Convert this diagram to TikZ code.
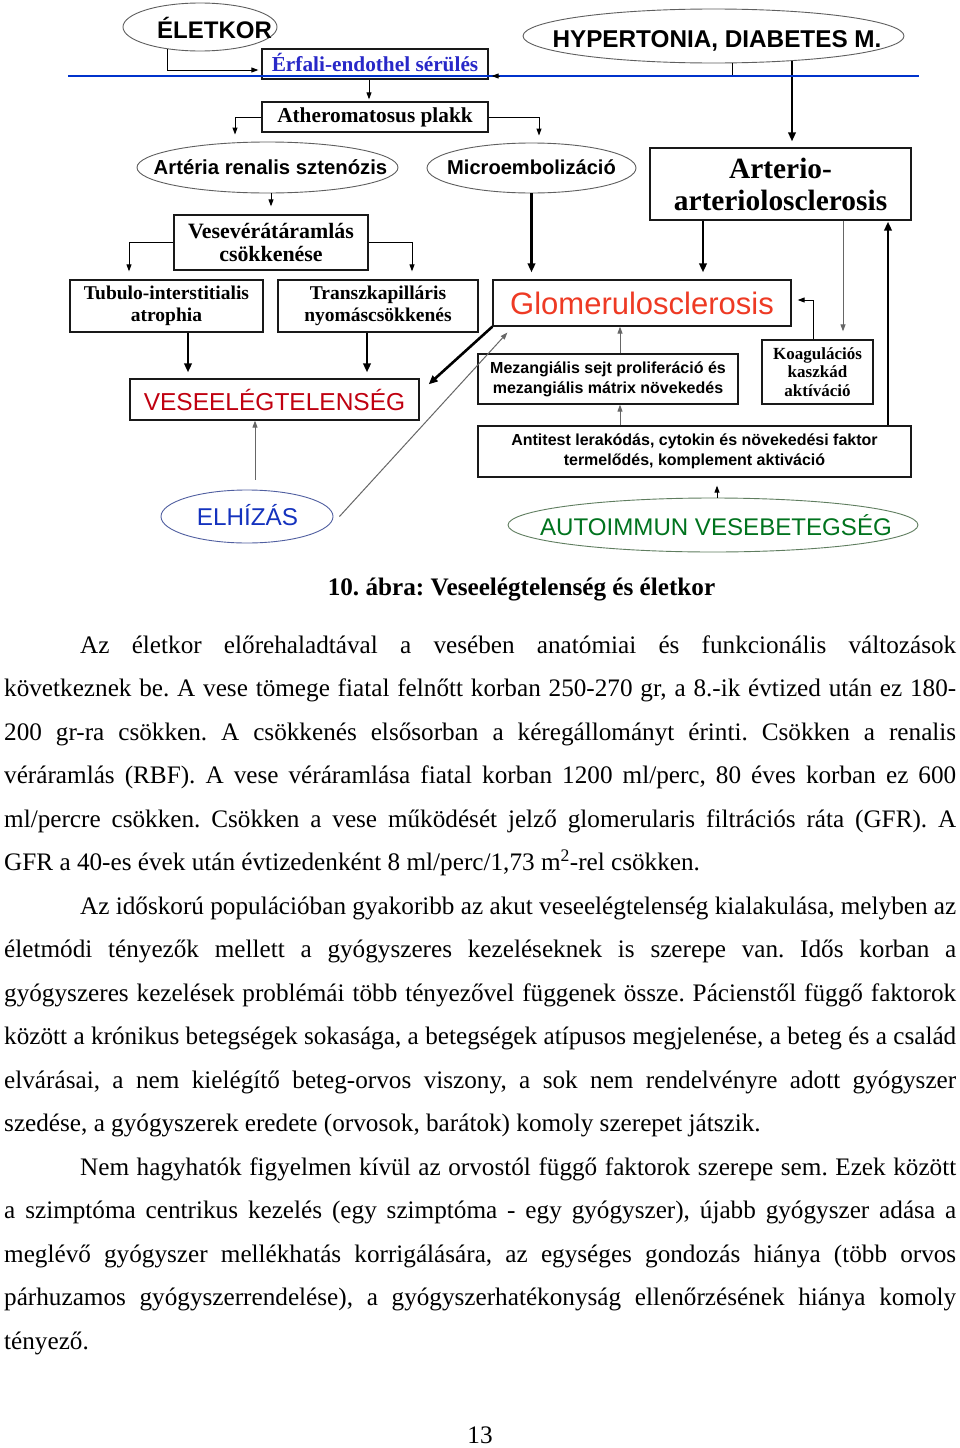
\documentclass[tikz,border=0pt]{standalone}
\usepackage{fontspec}
\setmainfont{Liberation Serif}
\newfontfamily\arialf{Liberation Sans}
\usetikzlibrary{shapes.geometric,arrows.meta,calc}
\definecolor{lineblue}{RGB}{0,51,204}
\definecolor{erfblue}{RGB}{40,40,200}
\definecolor{glomred}{RGB}{238,58,36}
\definecolor{veseelred}{RGB}{192,0,16}
\definecolor{elhblue}{RGB}{20,50,190}
\definecolor{autogreen}{RGB}{0,115,30}
\definecolor{ellgray}{RGB}{95,95,95}
\definecolor{ellblue}{RGB}{80,95,160}
\definecolor{ellgreen}{RGB}{95,125,95}
\newcommand\bodyline[4]{\node[tline] (#1) at (#2,#3) {#4};}
\frenchspacing
\begin{document}
\begin{tikzpicture}[x=1pt,y=-1pt,
  box/.style={draw=black!90,line width=1.3pt,inner sep=0pt,align=center},
  ell/.style={ellipse,draw=ellgray,line width=0.9pt,inner sep=0pt},
  etext/.style={anchor=base,inner sep=0pt},
  arr/.style={draw=black,line width=1pt,-{Triangle[length=7pt,width=5pt]}},
  arrg/.style={draw=black!60,line width=1pt,-{Triangle[length=7pt,width=5pt]}},
  arrk/.style={draw=black,line width=2.6pt,-{Triangle[length=9pt,width=7.5pt]}},
  tline/.style={anchor=base west,inner sep=0pt,font=\fontsize{25.2}{30}\selectfont},
]
\useasboundingbox[fill=white] (0,0) rectangle (960,1448);

% ---------- ellipses ----------
\node[ell,minimum width=154pt,minimum height=48pt] (eletkor) at (200,27) {};
\node[etext,font=\arialf\bfseries\fontsize{24}{24}\selectfont] (eletkortxt) at (214.5,38) {ÉLETKOR};
\node[ell,minimum width=381pt,minimum height=54pt] (hyper) at (713.5,36) {};
\node[etext,font=\arialf\bfseries\fontsize{24.3}{24}\selectfont] (hypertxt) at (717,47) {HYPERTONIA, DIABETES M.};
\node[ell,minimum width=261pt,minimum height=51pt] (arteria) at (267.5,167.5) {};
\node[etext,font=\arialf\bfseries\fontsize{20.3}{20}\selectfont] (arteriatxt) at (270.5,174) {Artéria renalis sztenózis};
\node[ell,minimum width=209pt,minimum height=50pt] (micro) at (531.5,168) {};
\node[etext,font=\arialf\bfseries\fontsize{20.1}{20}\selectfont] (microtxt) at (531.5,174) {Microembolizáció};
\node[ell,draw=ellblue,minimum width=172pt,minimum height=53pt] (elhizas) at (247,516.5) {};
\node[etext,text=elhblue,font=\arialf\fontsize{24.3}{24}\selectfont] (elhizastxt) at (247.5,525) {ELHÍZÁS};
\node[ell,draw=ellgreen,minimum width=410pt,minimum height=54pt] (autoimmun) at (713,525) {};
\node[etext,text=autogreen,font=\arialf\fontsize{24.1}{24}\selectfont] (autoimmuntxt) at (716,535) {AUTOIMMUN VESEBETEGSÉG};

% ---------- boxes ----------
\node[box,minimum width=226pt,minimum height=30pt,text=erfblue,font=\bfseries\fontsize{21.3}{22}\selectfont] (erfali) at (375,64) {\raisebox{2.5pt}{Érfali-endothel sérülés}};
\node[box,minimum width=226pt,minimum height=30pt,font=\bfseries\fontsize{21.3}{22}\selectfont] (athero) at (375,117) {Atheromatosus plakk};
\node[box,minimum width=194pt,minimum height=55pt,font=\bfseries\fontsize{21.9}{23}\selectfont] (vesev) at (271,242.5) {Vesevérátáramlás\\csökkenése};
\node[box,minimum width=193pt,minimum height=52pt,font=\bfseries\fontsize{19.5}{22}\selectfont] (tubulo) at (166.5,306) {Tubulo-interstitialis\\atrophia};
\node[box,minimum width=200pt,minimum height=52pt,font=\bfseries\fontsize{19.5}{22}\selectfont] (transz) at (378,306) {Transzkapilláris\\nyomáscsökkenés};
\node[box,minimum width=261pt,minimum height=72pt,font=\bfseries\fontsize{29.4}{32}\selectfont] (arterio) at (780.5,184) {Arterio-\\arteriolosclerosis};
\node[box,minimum width=298pt,minimum height=46pt,text=glomred,font=\arialf\fontsize{31}{31}\selectfont] (glom) at (642,303) {Glomerulosclerosis};
\node[box,minimum width=289pt,minimum height=41pt,text=veseelred,font=\arialf\fontsize{24.5}{24}\selectfont] (veseel) at (274.5,399.5) {VESEELÉGTELENSÉG};
\node[box,minimum width=260pt,minimum height=50pt,font=\arialf\bfseries\fontsize{16}{20}\selectfont] (mezang) at (608,379) {Mezangiális sejt proliferáció és\\mezangiális mátrix növekedés};
\node[box,minimum width=111pt,minimum height=64pt,font=\bfseries\fontsize{17}{18.5}\selectfont] (koag) at (817.5,372) {Koagulációs\\kaszkád\\aktíváció};
\node[box,minimum width=433pt,minimum height=51pt,font=\arialf\bfseries\fontsize{16}{20}\selectfont] (antitest) at (694.5,451.5) {Antitest lerakódás, cytokin és növekedési faktor\\termelődés, komplement aktiváció};

% ---------- connectors ----------
\draw[arr] ($(eletkor.center)+(-33,22)$) |- ($(erfali.west)+(-3,6)$);
\draw[draw=black,line width=1pt] ($(hyper.center)+(18.5,27)$) |- ($(erfali.east)+(3,12)$);
\draw[arrk,line width=2pt] ($(hyper.center)+(78.5,25)$) -- ($(arterio.north)+(11.5,-6)$);
\draw[lineblue,line width=2.2pt] (68,76) -- (919,76);
\draw[arr] ($(erfali.east)+(11,12)$) -- ($(erfali.east)+(3,12)$);
\draw[arr] ($(erfali.south)+(-6,0)$) -- ($(athero.north)+(-6,-2)$);
\draw[arr] (athero.west) -| ($(arteria.north)+(-32.5,-7)$);
\draw[arr] (athero.east) -| ($(micro.north)+(7.5,-7)$);
\draw[arr] ($(arteria.south)+(3.5,0)$) -- ($(vesev.north)+(0,-8)$);
\draw[arr] (vesev.west) -| ($(tubulo.north)+(-37.5,-8)$);
\draw[arr] (vesev.east) -| ($(transz.north)+(34,-8)$);
\draw[arrk] ($(tubulo.south)+(21.5,0)$) -- ($(veseel.north)+(-86.5,-6)$);
\draw[arrk] ($(transz.south)+(-11,0)$) -- ($(veseel.north)+(92.5,-6)$);
\draw[arrk] (micro.south) -- ($(glom.north)+(-110.5,-7)$);
\draw[arrk] ($(arterio.south)+(-77.5,0)$) -- ($(glom.north)+(61,-7)$);
\draw[arrg] ($(arterio.south)+(62.5,0)$) -- ($(koag.north)+(25.5,-8)$);
\draw[arrk] ($(antitest.north)+(193.5,0)$) -- ($(arterio.south)+(107.5,1)$);
\draw[arr] ($(koag.north)+(-4.5,0)$) |- ($(glom.east)+(6,-3)$);
\draw[arrk] (glom.south west) -- ($(veseel.north east)+(9,6)$);
\draw[arrg] ($(elhizas.east)+(6,0)$) -- ($(glom.south west)+(15,6)$);
\draw[arrg] ($(elhizas.north)+(8,-10)$) -- ($(veseel.south)+(-19.5,0)$);
\draw[arrg] ($(mezang.north)+(12,0)$) -- ($(glom.south)+(-22,0)$);
\draw[arrg] ($(antitest.north)+(-74.5,0)$) -- ($(mezang.south)+(12,0)$);
\draw[arr] ($(autoimmun.north)+(4,0)$) -- ($(antitest.south)+(22.5,8)$);

% ---------- caption and body ----------
\node[anchor=base,inner sep=0pt,font=\bfseries\fontsize{25.2}{30}\selectfont] (caption) at (521.5,595) {10. ábra: Veseelégtelenség és életkor};

\bodyline{l1}{80}{653}{\makebox[876pt][s]{Az életkor előrehaladtával a vesében anatómiai és funkcionális változások}}
\bodyline{l2}{4}{696.5}{\makebox[952pt][s]{következnek be. A vese tömege fiatal felnőtt korban 250-270 gr, a 8.-ik évtized után ez 180-}}
\bodyline{l3}{4}{740}{\makebox[952pt][s]{200 gr-ra csökken. A csökkenés elsősorban a kéregállományt érinti. Csökken a renalis}}
\bodyline{l4}{4}{783.5}{\makebox[952pt][s]{véráramlás (RBF). A vese véráramlása fiatal korban 1200 ml/perc, 80 éves korban ez 600}}
\bodyline{l5}{4}{827}{\makebox[952pt][s]{ml/percre csökken. Csökken a vese működését jelző glomerularis filtrációs ráta (GFR). A}}
\bodyline{l6}{4}{870.5}{GFR a 40-es évek után évtizedenként 8 ml/perc/1,73 m\textsuperscript{2}-rel csökken.}
\bodyline{l7}{80}{914}{\makebox[876pt][s]{Az időskorú populációban gyakoribb az akut veseelégtelenség kialakulása, melyben az}}
\bodyline{l8}{4}{957.5}{\makebox[952pt][s]{életmódi tényezők mellett a gyógyszeres kezeléseknek is szerepe van. Idős korban a}}
\bodyline{l9}{4}{1001}{\makebox[952pt][s]{gyógyszeres kezelések problémái több tényezővel függenek össze. Pácienstől függő faktorok}}
\bodyline{l10}{4}{1044.5}{\makebox[952pt][s]{között a krónikus betegségek sokasága, a betegségek atípusos megjelenése, a beteg és a család}}
\bodyline{l11}{4}{1088}{\makebox[952pt][s]{elvárásai, a nem kielégítő beteg-orvos viszony, a sok nem rendelvényre adott gyógyszer}}
\bodyline{l12}{4}{1131.5}{szedése, a gyógyszerek eredete (orvosok, barátok) komoly szerepet játszik.}
\bodyline{l13}{80}{1175}{\makebox[876pt][s]{Nem hagyhatók figyelmen kívül az orvostól függő faktorok szerepe sem. Ezek között}}
\bodyline{l14}{4}{1218.5}{\makebox[952pt][s]{a szimptóma centrikus kezelés (egy szimptóma - egy gyógyszer), újabb gyógyszer adása a}}
\bodyline{l15}{4}{1262}{\makebox[952pt][s]{meglévő gyógyszer mellékhatás korrigálására, az egységes gondozás hiánya (több orvos}}
\bodyline{l16}{4}{1305.5}{\makebox[952pt][s]{párhuzamos gyógyszerrendelése), a gyógyszerhatékonyság ellenőrzésének hiánya komoly}}
\bodyline{l17}{4}{1349}{tényező.}

\node[anchor=base,inner sep=0pt,font=\fontsize{25.2}{30}\selectfont] (pagenum) at (480,1443) {13};
\end{tikzpicture}
\end{document}
